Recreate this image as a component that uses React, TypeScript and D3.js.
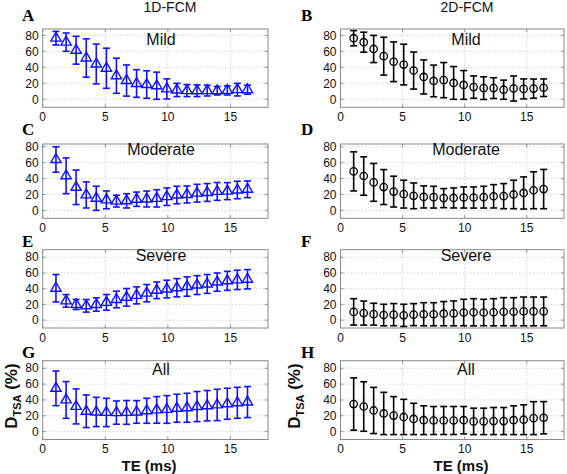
import React from 'react';
import * as d3 from 'd3';

// Echo times (ms)
const TE = [1.06, 1.87, 2.67, 3.48, 4.28, 5.09, 5.89, 6.70, 7.50, 8.31, 9.11, 9.92, 10.72, 11.53, 12.33, 13.14, 13.94, 14.75, 15.55, 16.36];
const X_TICKS = [0, 5, 10, 15];
const Y_TICKS = [0, 20, 40, 60, 80];
const METHODS = ['1D-FCM', '2D-FCM'];
const SEVERITY = ['Mild', 'Moderate', 'Severe', 'All'];
const LETTERS = [['A', 'B'], ['C', 'D'], ['E', 'F'], ['G', 'H']];

// 1D-FCM (mean, sd)
const mild1DMean = [76.5, 71.5, 61.4, 51.7, 44.2, 38.9, 29.5, 23.5, 19.8, 18.5, 17.0, 13.0, 11.7, 10.9, 10.7, 10.9, 10.7, 11.1, 12.1, 12.0];
const mild1DSd = [8.5, 11.5, 17.4, 24.0, 24.9, 25.1, 22.0, 19.5, 17.3, 17.2, 17.0, 12.6, 8.3, 7.5, 7.3, 6.7, 5.3, 5.7, 7.9, 5.7];
const moderate1DMean = [64.0, 43.5, 29.0, 19.4, 15.2, 13.2, 11.6, 12.0, 14.0, 14.3, 15.1, 17.2, 19.3, 20.0, 21.6, 22.5, 23.8, 24.2, 25.6, 26.5];
const moderate1DSd = [16.0, 22.5, 21.7, 16.4, 15.2, 11.2, 7.4, 9.0, 9.0, 10.0, 10.9, 11.0, 11.0, 10.7, 11.2, 11.2, 11.2, 10.7, 11.0, 10.5];
const severe1DMean = [40.6, 24.5, 19.9, 18.2, 19.9, 22.6, 26.3, 29.0, 31.5, 34.3, 38.0, 39.6, 41.2, 42.7, 44.6, 46.0, 48.4, 50.0, 51.2, 52.0];
const severe1DSd = [17.4, 8.0, 6.4, 8.0, 8.5, 10.0, 10.6, 11.2, 10.8, 11.0, 10.6, 11.2, 11.6, 12.3, 12.0, 12.0, 11.6, 12.1, 12.3, 12.3];
const all1DMean = [54.7, 40.0, 31.8, 25.7, 24.8, 24.2, 24.0, 24.2, 24.8, 26.3, 27.4, 28.0, 29.5, 30.1, 31.6, 32.7, 33.7, 35.2, 36.4, 37.3];
const all1DSd = [21.9, 23.2, 22.1, 20.6, 18.5, 17.9, 14.7, 15.0, 14.3, 15.8, 16.8, 17.5, 17.7, 18.3, 19.0, 19.2, 19.8, 19.6, 19.6, 19.6];

// 2D-FCM (mean, sd)
const mild2DMean = [76.5, 71.5, 63.0, 54.0, 47.0, 43.5, 36.0, 28.0, 23.0, 24.0, 20.5, 18.0, 15.3, 14.0, 14.0, 12.0, 13.5, 13.0, 13.4, 14.5];
const mild2DSd = [9.5, 12.5, 17.0, 23.7, 24.8, 25.5, 23.2, 21.3, 19.8, 22.0, 20.5, 18.0, 14.0, 14.2, 13.0, 12.0, 15.7, 12.5, 12.0, 11.0];
const moderate2DMean = [49.0, 43.2, 35.2, 29.3, 23.6, 20.4, 18.3, 16.9, 16.6, 15.4, 15.6, 16.2, 16.2, 16.6, 17.7, 17.9, 20.0, 21.9, 25.3, 26.8];
const moderate2DSd = [24.6, 24.2, 23.8, 22.0, 19.4, 17.5, 16.2, 13.9, 13.7, 12.0, 12.6, 13.3, 13.3, 13.7, 14.7, 15.8, 17.9, 20.2, 23.2, 24.7];
const severe2DMean = [10.5, 9.0, 7.6, 6.5, 7.0, 6.1, 7.0, 7.5, 7.5, 8.2, 8.6, 9.7, 10.0, 9.7, 10.0, 10.7, 10.7, 11.1, 11.1, 11.1];
const severe2DSd = [16.8, 15.3, 13.9, 13.7, 14.1, 14.1, 14.0, 14.7, 14.7, 15.4, 15.8, 16.8, 17.3, 16.8, 17.3, 17.9, 17.9, 18.3, 18.3, 18.3];
const all2DMean = [34.8, 31.7, 26.7, 22.9, 20.2, 18.5, 16.0, 14.4, 14.0, 14.0, 14.0, 14.4, 12.9, 12.9, 13.3, 13.3, 14.4, 15.0, 17.0, 17.5];
const all2DSd = [33.1, 31.3, 29.2, 26.7, 24.0, 22.3, 19.8, 18.2, 17.7, 17.7, 17.7, 17.3, 16.7, 16.7, 17.1, 17.1, 18.2, 18.8, 20.8, 20.4];

const MEANS = [
  [mild1DMean, mild2DMean],
  [moderate1DMean, moderate2DMean],
  [severe1DMean, severe2DMean],
  [all1DMean, all2DMean],
];
const SDS = [
  [mild1DSd, mild2DSd],
  [moderate1DSd, moderate2DSd],
  [severe1DSd, severe2DSd],
  [all1DSd, all2DSd],
];

// Layout
const COLS = [
  { left: 42.7, right: 268, letterX: 22, titleX: 170, labelX: 161, ylabelX: 17, xlabelX: 149, color: '#1010ff', marker: 'tri' },
  { left: 340.5, right: 564, letterX: 301, titleX: 467, labelX: 466, ylabelX: 300, xlabelX: 461, color: '#000000', marker: 'circ' },
];
const ROWS = [
  { top: 29, bottom: 107.3, ymax: 88, letterY: 21, labelY: 45 },
  { top: 144, bottom: 218.3, ymax: 83.5, letterY: 135, labelY: 155 },
  { top: 249.7, bottom: 328, ymax: 89.6, letterY: 247, labelY: 261 },
  { top: 360.7, bottom: 439.5, ymax: 89.6, letterY: 358, labelY: 375 },
];

const SANS = "'Liberation Sans', Arial, 'DejaVu Sans', sans-serif";
const SERIF = "'Liberation Serif', 'Times New Roman', serif";

function Panel({ r, c }: { r: number; c: number }) {
  const col = COLS[c];
  const row = ROWS[r];
  const x = d3.scaleLinear().domain([0, 18]).range([col.left, col.right]);
  const y = d3.scaleLinear().domain([-10, row.ymax]).range([row.bottom, row.top]);
  const means = MEANS[r][c];
  const sds = SDS[r][c];
  const color = col.color;
  const tri = d3.symbol().type(d3.symbolTriangle).size(46)();
  const isLast = r === ROWS.length - 1;
  const cap = 3.5;
  return (
    <g>
      <rect x={col.left} y={row.top} width={col.right - col.left} height={row.bottom - row.top} fill="#fff" />
      {Y_TICKS.map((t) => (
        <line key={'gy' + t} x1={col.left} x2={col.right} y1={y(t)} y2={y(t)} stroke="#c8c8c8" strokeWidth={0.8} strokeDasharray="1.5,2" />
      ))}
      {X_TICKS.filter((t) => t > 0).map((t) => (
        <line key={'gx' + t} x1={x(t)} x2={x(t)} y1={row.top} y2={row.bottom} stroke="#c8c8c8" strokeWidth={0.8} strokeDasharray="1.5,2" />
      ))}
      {Y_TICKS.map((t) => (
        <g key={'ty' + t}>
          <line x1={col.left} x2={col.left + 3} y1={y(t)} y2={y(t)} stroke="#777" strokeWidth={0.8} />
          <line x1={col.right} x2={col.right - 3} y1={y(t)} y2={y(t)} stroke="#777" strokeWidth={0.8} />
          <text x={col.left - 4} y={y(t)} dy="0.35em" textAnchor="end" fontFamily={SANS} fontSize={12} fill="#111">{t}</text>
        </g>
      ))}
      {X_TICKS.map((t) => (
        <g key={'tx' + t}>
          <line x1={x(t)} x2={x(t)} y1={row.bottom} y2={row.bottom - 3} stroke="#777" strokeWidth={0.8} />
          <line x1={x(t)} x2={x(t)} y1={row.top} y2={row.top + 3} stroke="#777" strokeWidth={0.8} />
          <text x={x(t)} y={row.bottom + 13.5} textAnchor="middle" fontFamily={SANS} fontSize={12} fill="#111">{t}</text>
        </g>
      ))}
      <rect x={col.left} y={row.top} width={col.right - col.left} height={row.bottom - row.top} fill="none" stroke="#8a8a8a" strokeWidth={1} />
      <text x={col.labelX} y={row.labelY} textAnchor="middle" fontFamily={SANS} fontSize={16} fill="#111">{SEVERITY[r]}</text>
      {TE.map((t, i) => {
        const px = x(t);
        const yt = y(means[i] + sds[i]);
        const yb = y(means[i] - sds[i]);
        return (
          <g key={'e' + i} stroke={color} strokeWidth={1.6} fill="none">
            <line x1={px} x2={px} y1={yt} y2={yb} />
            <line x1={px - cap} x2={px + cap} y1={yt} y2={yt} />
            <line x1={px - cap} x2={px + cap} y1={yb} y2={yb} />
            {col.marker === 'tri' ? (
              <path d={tri || ''} transform={`translate(${px},${y(means[i])})`} strokeWidth={1.4} />
            ) : (
              <circle cx={px} cy={y(means[i])} r={3.7} strokeWidth={1.3} />
            )}
          </g>
        );
      })}
      <text x={col.letterX} y={row.letterY} fontFamily={SERIF} fontWeight="bold" fontSize={17} fill="#000">{LETTERS[r][c]}</text>
      {r === 0 && (
        <text x={col.titleX} y={12} textAnchor="middle" fontFamily={SANS} fontSize={14} fill="#111">{METHODS[c]}</text>
      )}
      {isLast && (
        <g>
          <text x={col.xlabelX} y={471} textAnchor="middle" fontFamily={SANS} fontWeight="bold" fontSize={15} fill="#111">TE (ms)</text>
          <text transform={`translate(${col.ylabelX},${(row.top + row.bottom) / 2 - 4}) rotate(-90)`} textAnchor="middle" fontFamily={SANS} fontWeight="bold" fontSize={17} fill="#111">
            D<tspan fontSize={11} dy={4}>TSA</tspan><tspan dy={-4}> (%)</tspan>
          </text>
        </g>
      )}
    </g>
  );
}

export default function App() {
  return (
    <svg width={567} height={474} style={{ position: 'absolute', left: 0, top: 0, background: '#fff' }}>
      <rect x={0} y={0} width={567} height={474} fill="#fff" />
      {ROWS.map((_, r) => COLS.map((__, c) => <Panel key={r + '-' + c} r={r} c={c} />))}
    </svg>
  );
}
